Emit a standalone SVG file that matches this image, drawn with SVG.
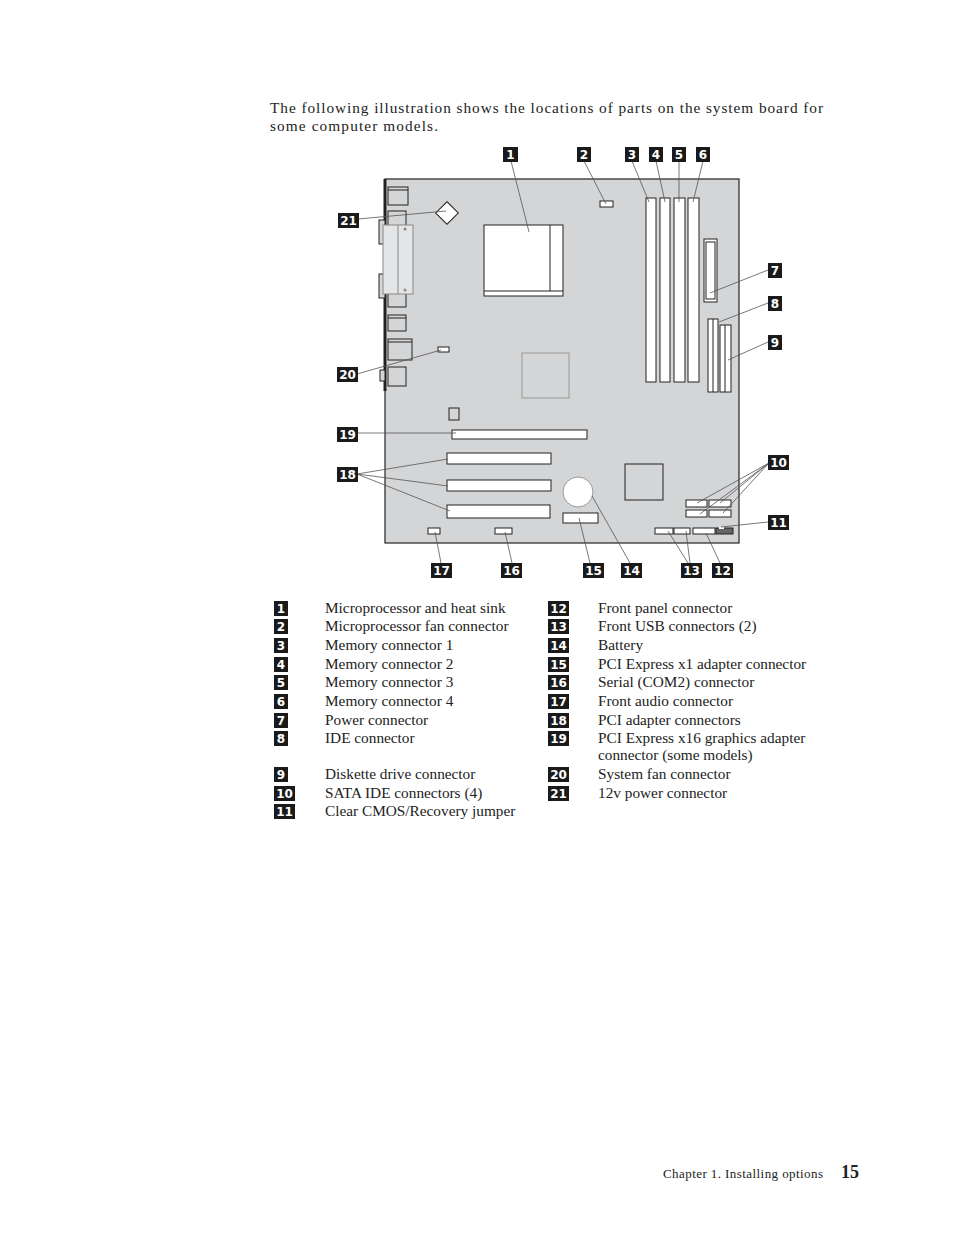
<svg xmlns="http://www.w3.org/2000/svg" width="954" height="1235" viewBox="0 0 954 1235">
<style>
.t{font-family:"Liberation Serif",serif;font-size:15.3px;fill:#222}
.b{fill:#1a1a1a}
.bt{font-family:"DejaVu Sans",sans-serif;font-weight:bold;font-size:12px;fill:#fff;text-anchor:middle}
.w{fill:#fff;stroke:#222;stroke-width:1}
.ln{stroke:#555;stroke-width:0.8;fill:none}
</style>
<rect width="954" height="1235" fill="#fff"/>
<text class="t" x="270" y="113" textLength="553" lengthAdjust="spacing">The following illustration shows the locations of parts on the system board for</text>
<text class="t" x="270" y="131" textLength="168" lengthAdjust="spacing">some computer models.</text>
<g id="board">
<rect x="385" y="179" width="354" height="364" fill="#d4d5d7" stroke="#222" stroke-width="1.2"/>
<line x1="385" y1="179" x2="385" y2="391" stroke="#222" stroke-width="3"/>
<rect x="379" y="220" width="6" height="24" fill="#d4d5d7" stroke="#222"/>
<rect x="379" y="274" width="6" height="24" fill="#d4d5d7" stroke="#222"/>
<rect x="380" y="370" width="5" height="11" fill="#d4d5d7" stroke="#222"/>
<rect x="388" y="187" width="20" height="18" fill="none" stroke="#222"/>
<line x1="388" y1="190" x2="408" y2="190" stroke="#222"/>
<rect x="388" y="211" width="18" height="96" fill="none" stroke="#222"/>
<rect x="383" y="225" width="30" height="69" fill="#e4e5e6" stroke="#888"/>
<line x1="398" y1="225" x2="398" y2="294" stroke="#888"/>
<circle cx="405" cy="229" r="1.5" fill="#888"/><circle cx="405" cy="290" r="1.5" fill="#888"/>
<rect x="388" y="315" width="18" height="16" fill="none" stroke="#222"/>
<line x1="388" y1="318" x2="406" y2="318" stroke="#222"/>
<rect x="388" y="339" width="24" height="21" fill="none" stroke="#222"/>
<line x1="388" y1="342" x2="412" y2="342" stroke="#222"/>
<rect x="388" y="367" width="18" height="19" fill="none" stroke="#222"/>
</g>
<g id="n21"><rect x="439" y="205" width="16" height="16" class="w" transform="rotate(45 447 213)"/></g>
<g id="n1"><rect x="484" y="225" width="79" height="71" class="w"/><line x1="550" y1="225" x2="550" y2="291" stroke="#222"/><line x1="484" y1="291" x2="563" y2="291" stroke="#222"/></g>
<g id="n2"><rect x="600" y="201" width="13" height="6" class="w"/></g>
<g id="n3"><rect x="646" y="198" width="10" height="184" class="w"/></g>
<g id="n4"><rect x="660" y="198" width="10" height="184" class="w"/></g>
<g id="n5"><rect x="674" y="198" width="11" height="184" class="w"/></g>
<g id="n6"><rect x="688" y="198" width="11" height="184" class="w"/></g>
<g id="n7"><rect x="704" y="239" width="13" height="63" class="w"/><rect x="706" y="242" width="9" height="57" fill="none" stroke="#222"/></g>
<g id="n8"><rect x="708" y="319" width="10" height="73" class="w"/><line x1="713" y1="319" x2="713" y2="392" stroke="#222"/></g>
<g id="n9"><rect x="720" y="325" width="11" height="67" class="w"/><line x1="725" y1="325" x2="725" y2="392" stroke="#222"/></g>
<g id="chip"><rect x="522" y="353" width="47" height="45" fill="none" stroke="#999"/><rect x="449" y="408" width="10" height="12" fill="none" stroke="#222"/><rect x="625" y="464" width="38" height="36" fill="none" stroke="#222"/></g>
<g id="n20"><rect x="438" y="347" width="11" height="5" class="w"/></g>
<g id="n19"><rect x="452" y="430" width="135" height="9" class="w"/></g>
<g id="n18"><rect x="447" y="453" width="104" height="11" class="w"/><rect x="447" y="480" width="104" height="11" class="w"/><rect x="447" y="505" width="103" height="13" class="w"/></g>
<g id="n14"><circle cx="578" cy="492" r="15" fill="#fff" stroke="#999"/></g>
<g id="n15"><rect x="563" y="513" width="35" height="10" class="w"/></g>
<g id="n10"><rect x="686" y="500" width="21" height="7" class="w"/><rect x="709" y="500" width="22" height="7" class="w"/><rect x="686" y="510" width="21" height="7" class="w"/><rect x="709" y="510" width="22" height="7" class="w"/></g>
<g id="n17"><rect x="428" y="528" width="12" height="6" class="w"/></g>
<g id="n16"><rect x="495" y="528" width="17" height="6" class="w"/></g>
<g id="n13"><rect x="655" y="528" width="18" height="6" class="w"/><rect x="674" y="528" width="16" height="6" class="w"/></g>
<g id="n12"><rect x="693" y="528" width="22" height="6" class="w"/></g>
<g id="n11"><rect x="716" y="528" width="17" height="6" fill="#666" stroke="#222"/><rect x="719" y="527" width="5" height="2" fill="#fff"/></g>
<g id="connectors" class="ln">
<line x1="511" y1="161" x2="529" y2="232"/>
<line x1="584" y1="161" x2="606" y2="204"/>
<line x1="632" y1="161" x2="649" y2="202"/>
<line x1="656" y1="161" x2="665" y2="202"/>
<line x1="679" y1="161" x2="679" y2="202"/>
<line x1="703" y1="161" x2="693" y2="202"/>
<line x1="768" y1="270" x2="710" y2="293"/>
<line x1="768" y1="303" x2="719" y2="322"/>
<line x1="768" y1="342" x2="728" y2="360"/>
<line x1="358" y1="219" x2="446" y2="211"/>
<line x1="357" y1="374" x2="441" y2="350"/>
<line x1="357" y1="433" x2="456" y2="433"/>
<line x1="357" y1="474" x2="448" y2="459"/>
<line x1="357" y1="474" x2="448" y2="486"/>
<line x1="357" y1="474" x2="450" y2="511"/>
<line x1="769" y1="463" x2="697" y2="503"/>
<line x1="769" y1="463" x2="700" y2="514"/>
<line x1="769" y1="463" x2="720" y2="503"/>
<line x1="769" y1="463" x2="723" y2="513"/>
<line x1="768" y1="522" x2="721" y2="527"/>
<line x1="435" y1="532" x2="441" y2="563"/>
<line x1="505" y1="532" x2="512" y2="563"/>
<line x1="579" y1="518" x2="590" y2="563"/>
<line x1="592" y1="496" x2="630" y2="563"/>
<line x1="668" y1="531" x2="688" y2="563"/>
<line x1="686" y1="531" x2="690" y2="563"/>
<line x1="706" y1="533" x2="720" y2="563"/>
</g>
<g id="labels">
<rect class="b" x="503" y="147" width="15" height="15"/><text class="bt" x="510.5" y="159">1</text>
<rect class="b" x="577" y="147" width="14" height="15"/><text class="bt" x="584" y="159">2</text>
<rect class="b" x="625" y="147" width="14" height="15"/><text class="bt" x="632" y="159">3</text>
<rect class="b" x="649" y="147" width="14" height="15"/><text class="bt" x="656" y="159">4</text>
<rect class="b" x="672" y="147" width="14" height="15"/><text class="bt" x="679" y="159">5</text>
<rect class="b" x="696" y="147" width="14" height="15"/><text class="bt" x="703" y="159">6</text>
<rect class="b" x="768" y="263" width="14" height="15"/><text class="bt" x="775" y="275">7</text>
<rect class="b" x="768" y="296" width="14" height="15"/><text class="bt" x="775" y="308">8</text>
<rect class="b" x="768" y="335" width="14" height="15"/><text class="bt" x="775" y="347">9</text>
<rect class="b" x="768" y="455" width="21" height="15"/><text class="bt" x="778.5" y="467">10</text>
<rect class="b" x="768" y="515" width="21" height="15"/><text class="bt" x="778.5" y="527">11</text>
<rect class="b" x="338" y="213" width="21" height="15"/><text class="bt" x="348.5" y="225">21</text>
<rect class="b" x="337" y="367" width="21" height="15"/><text class="bt" x="347.5" y="379">20</text>
<rect class="b" x="337" y="427" width="21" height="15"/><text class="bt" x="347.5" y="439">19</text>
<rect class="b" x="337" y="467" width="21" height="15"/><text class="bt" x="347.5" y="479">18</text>
<rect class="b" x="431" y="563" width="21" height="15"/><text class="bt" x="441.5" y="575">17</text>
<rect class="b" x="501" y="563" width="21" height="15"/><text class="bt" x="511.5" y="575">16</text>
<rect class="b" x="583" y="563" width="21" height="15"/><text class="bt" x="593.5" y="575">15</text>
<rect class="b" x="621" y="563" width="21" height="15"/><text class="bt" x="631.5" y="575">14</text>
<rect class="b" x="681" y="563" width="21" height="15"/><text class="bt" x="691.5" y="575">13</text>
<rect class="b" x="712" y="563" width="21" height="15"/><text class="bt" x="722.5" y="575">12</text>
</g>
<g id="legend">
<rect class="b" x="274" y="601" width="14" height="15"/><text class="bt" x="281" y="613">1</text><text class="t" x="325" y="613">Microprocessor and heat sink</text>
<rect class="b" x="274" y="619" width="14" height="15"/><text class="bt" x="281" y="631">2</text><text class="t" x="325" y="631">Microprocessor fan connector</text>
<rect class="b" x="274" y="638" width="14" height="15"/><text class="bt" x="281" y="650">3</text><text class="t" x="325" y="650">Memory connector 1</text>
<rect class="b" x="274" y="657" width="14" height="15"/><text class="bt" x="281" y="669">4</text><text class="t" x="325" y="669">Memory connector 2</text>
<rect class="b" x="274" y="675" width="14" height="15"/><text class="bt" x="281" y="687">5</text><text class="t" x="325" y="687">Memory connector 3</text>
<rect class="b" x="274" y="694" width="14" height="15"/><text class="bt" x="281" y="706">6</text><text class="t" x="325" y="706">Memory connector 4</text>
<rect class="b" x="274" y="713" width="14" height="15"/><text class="bt" x="281" y="725">7</text><text class="t" x="325" y="725">Power connector</text>
<rect class="b" x="274" y="731" width="14" height="15"/><text class="bt" x="281" y="743">8</text><text class="t" x="325" y="743">IDE connector</text>
<rect class="b" x="274" y="767" width="14" height="15"/><text class="bt" x="281" y="779">9</text><text class="t" x="325" y="779">Diskette drive connector</text>
<rect class="b" x="274" y="786" width="21" height="15"/><text class="bt" x="284.5" y="798">10</text><text class="t" x="325" y="798">SATA IDE connectors (4)</text>
<rect class="b" x="274" y="804" width="21" height="15"/><text class="bt" x="284.5" y="816">11</text><text class="t" x="325" y="816">Clear CMOS/Recovery jumper</text>
<rect class="b" x="548" y="601" width="21" height="15"/><text class="bt" x="558.5" y="613">12</text><text class="t" x="598" y="613">Front panel connector</text>
<rect class="b" x="548" y="619" width="21" height="15"/><text class="bt" x="558.5" y="631">13</text><text class="t" x="598" y="631">Front USB connectors (2)</text>
<rect class="b" x="548" y="638" width="21" height="15"/><text class="bt" x="558.5" y="650">14</text><text class="t" x="598" y="650">Battery</text>
<rect class="b" x="548" y="657" width="21" height="15"/><text class="bt" x="558.5" y="669">15</text><text class="t" x="598" y="669">PCI Express x1 adapter connector</text>
<rect class="b" x="548" y="675" width="21" height="15"/><text class="bt" x="558.5" y="687">16</text><text class="t" x="598" y="687">Serial (COM2) connector</text>
<rect class="b" x="548" y="694" width="21" height="15"/><text class="bt" x="558.5" y="706">17</text><text class="t" x="598" y="706">Front audio connector</text>
<rect class="b" x="548" y="713" width="21" height="15"/><text class="bt" x="558.5" y="725">18</text><text class="t" x="598" y="725">PCI adapter connectors</text>
<rect class="b" x="548" y="731" width="21" height="15"/><text class="bt" x="558.5" y="743">19</text><text class="t" x="598" y="743">PCI Express x16 graphics adapter</text><text class="t" x="598" y="760">connector (some models)</text>
<rect class="b" x="548" y="767" width="21" height="15"/><text class="bt" x="558.5" y="779">20</text><text class="t" x="598" y="779">System fan connector</text>
<rect class="b" x="548" y="786" width="21" height="15"/><text class="bt" x="558.5" y="798">21</text><text class="t" x="598" y="798">12v power connector</text>
</g>
<text x="663" y="1178" textLength="160" lengthAdjust="spacing" style="font-family:'Liberation Serif',serif;font-size:13px;fill:#222">Chapter 1. Installing options</text>
<text x="841" y="1178" style="font-family:'Liberation Serif',serif;font-size:18px;font-weight:bold;fill:#222">15</text>
</svg>
